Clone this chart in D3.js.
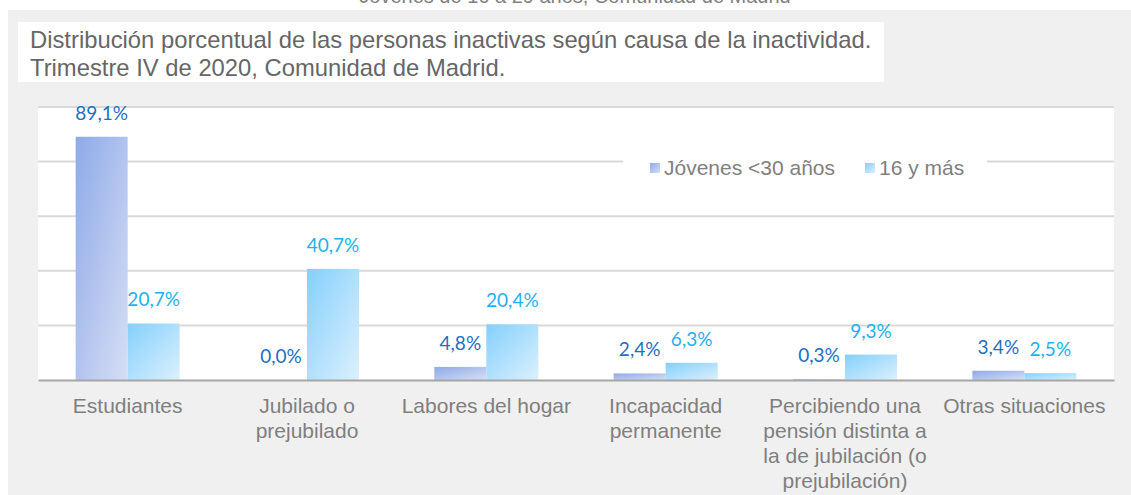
<!DOCTYPE html>
<html><head><meta charset="utf-8">
<script src="https://cdn.jsdelivr.net/npm/d3@7"></script>
<style>html,body{margin:0;padding:0;background:#fff;}svg{display:block;}</style>
</head><body>
<svg id="c" width="1131" height="495"></svg>
<script>
const categories = ["Estudiantes","Jubilado o prejubilado","Labores del hogar","Incapacidad permanente","Percibiendo una pensión distinta a la de jubilación (o prejubilación)","Otras situaciones"];
const categoryLines = [["Estudiantes"],["Jubilado o","prejubilado"],["Labores del hogar"],["Incapacidad","permanente"],["Percibiendo una","pensión distinta a","la de jubilación (o","prejubilación)"],["Otras situaciones"]];
const seriesNames = ["Jóvenes <30 años","16 y más"];
const jovenes = [89.1, 0.0, 4.8, 2.4, 0.3, 3.4];
const todos = [20.7, 40.7, 20.4, 6.3, 9.3, 2.5];
const yTicks = [0,20,40,60,80,100];
const titleLines = ["Distribución porcentual de las personas inactivas según causa de la inactividad.","Trimestre IV de 2020, Comunidad de Madrid."];

const svg = d3.select("#c");
const W = 1131, H = 495;
const plot = {l:38, r:1114, t:107, b:380};

// page background
svg.append("rect").attr("x",0).attr("y",0).attr("width",W).attr("height",H).attr("fill","#fff");
svg.append("rect").attr("x",8).attr("y",10).attr("width",W-8).attr("height",H-10).attr("fill","#f0f0f0");
// cut-off heading at top
svg.append("text").attr("x",575).attr("y",3).attr("text-anchor","middle")
  .attr("font-family","'Liberation Sans',Arial,sans-serif").attr("font-size",20).attr("fill","#7f7f7f")
  .text("Jóvenes de 16 a 29 años, Comunidad de Madrid");
svg.append("rect").attr("x",8).attr("y",10).attr("width",W-8).attr("height",12).attr("fill","#f0f0f0");

// gradients
const defs = svg.append("defs");
const grads = [["g0","#8eaae8","#d6def5"],["g1","#84d0fc","#dcf0fd"]];
grads.forEach(([id,c1,c2])=>{
  const g = defs.append("linearGradient").attr("id",id).attr("x1",0).attr("y1",0).attr("x2",1).attr("y2",1);
  g.append("stop").attr("offset","0%").attr("stop-color",c1);
  g.append("stop").attr("offset","100%").attr("stop-color",c2);
});

// title box
svg.append("rect").attr("x",18).attr("y",22).attr("width",866).attr("height",60).attr("fill","#fff");
svg.append("g").selectAll("text").data(titleLines).join("text")
  .attr("x",30).attr("y",(d,i)=>48+i*28)
  .attr("font-family","'Liberation Sans',Arial,sans-serif").attr("font-size",23.8).attr("fill","#666")
  .text(d=>d);

// plot area
svg.append("rect").attr("x",plot.l).attr("y",plot.t).attr("width",plot.r-plot.l).attr("height",plot.b-plot.t).attr("fill","#fff");

const x = d3.scaleBand().domain(categories).range([plot.l,plot.r]).paddingInner(0.42).paddingOuter(0.21);
const xs = d3.scaleBand().domain([0,1]).range([0,x.bandwidth()]);
const y = d3.scaleLinear().domain([0,100]).range([plot.b,plot.t]);

// gridlines
svg.append("g").selectAll("line").data(yTicks.filter(t=>t>0)).join("line")
  .attr("x1",plot.l).attr("x2",plot.r).attr("y1",d=>y(d)).attr("y2",d=>y(d))
  .attr("stroke","#d9d9d9").attr("stroke-width",2);

// legend
const lg = svg.append("g");
lg.append("rect").attr("x",623).attr("y",150).attr("width",364).attr("height",36).attr("fill","#fff");
const legX = [650, 865];
seriesNames.forEach((n,i)=>{
  lg.append("rect").attr("x",legX[i]).attr("y",163).attr("width",10).attr("height",10).attr("fill",`url(#g${i})`);
  lg.append("text").attr("x",legX[i]+14).attr("y",175)
    .attr("font-family","'Liberation Sans',Arial,sans-serif").attr("font-size",21).attr("fill","#7f7f7f").text(n);
});

// bars
const series = [jovenes, todos];
const labelColors = ["#1f6fc0","#1fb0ef"];
series.forEach((vals,si)=>{
  const g = svg.append("g");
  g.selectAll("rect").data(vals).join("rect")
    .attr("x",(d,i)=>x(categories[i])+xs(si))
    .attr("width",xs.bandwidth())
    .attr("y",d=>y(d)).attr("height",d=>y(0)-y(d))
    .attr("fill",`url(#g${si})`);
  g.selectAll("text").data(vals).join("text")
    .attr("x",(d,i)=>x(categories[i])+xs(si)+xs.bandwidth()/2)
    .attr("y",d=>y(d)-17)
    .attr("text-anchor","middle")
    .attr("font-family","Lato,'Open Sans',sans-serif").attr("font-size",19).attr("fill",labelColors[si])
    .text(d=>d.toFixed(1).replace(".",",")+"%");
});

// x axis
const xAxis = d3.axisBottom(x).tickSize(0).tickFormat("");
const ax = svg.append("g").attr("transform",`translate(0,${plot.b})`).call(xAxis);
ax.select(".domain").attr("stroke","#a6a6a6").attr("stroke-width",2);
ax.selectAll(".tick").each(function(d,i){
  const t = d3.select(this).append("text").attr("text-anchor","middle")
    .attr("font-family","'Liberation Sans',Arial,sans-serif").attr("font-size",21).attr("fill","#7f7f7f");
  categoryLines[i].forEach((ln,j)=>{
    t.append("tspan").attr("x",0).attr("y",33+j*25).text(ln);
  });
});
</script>
</body></html>
